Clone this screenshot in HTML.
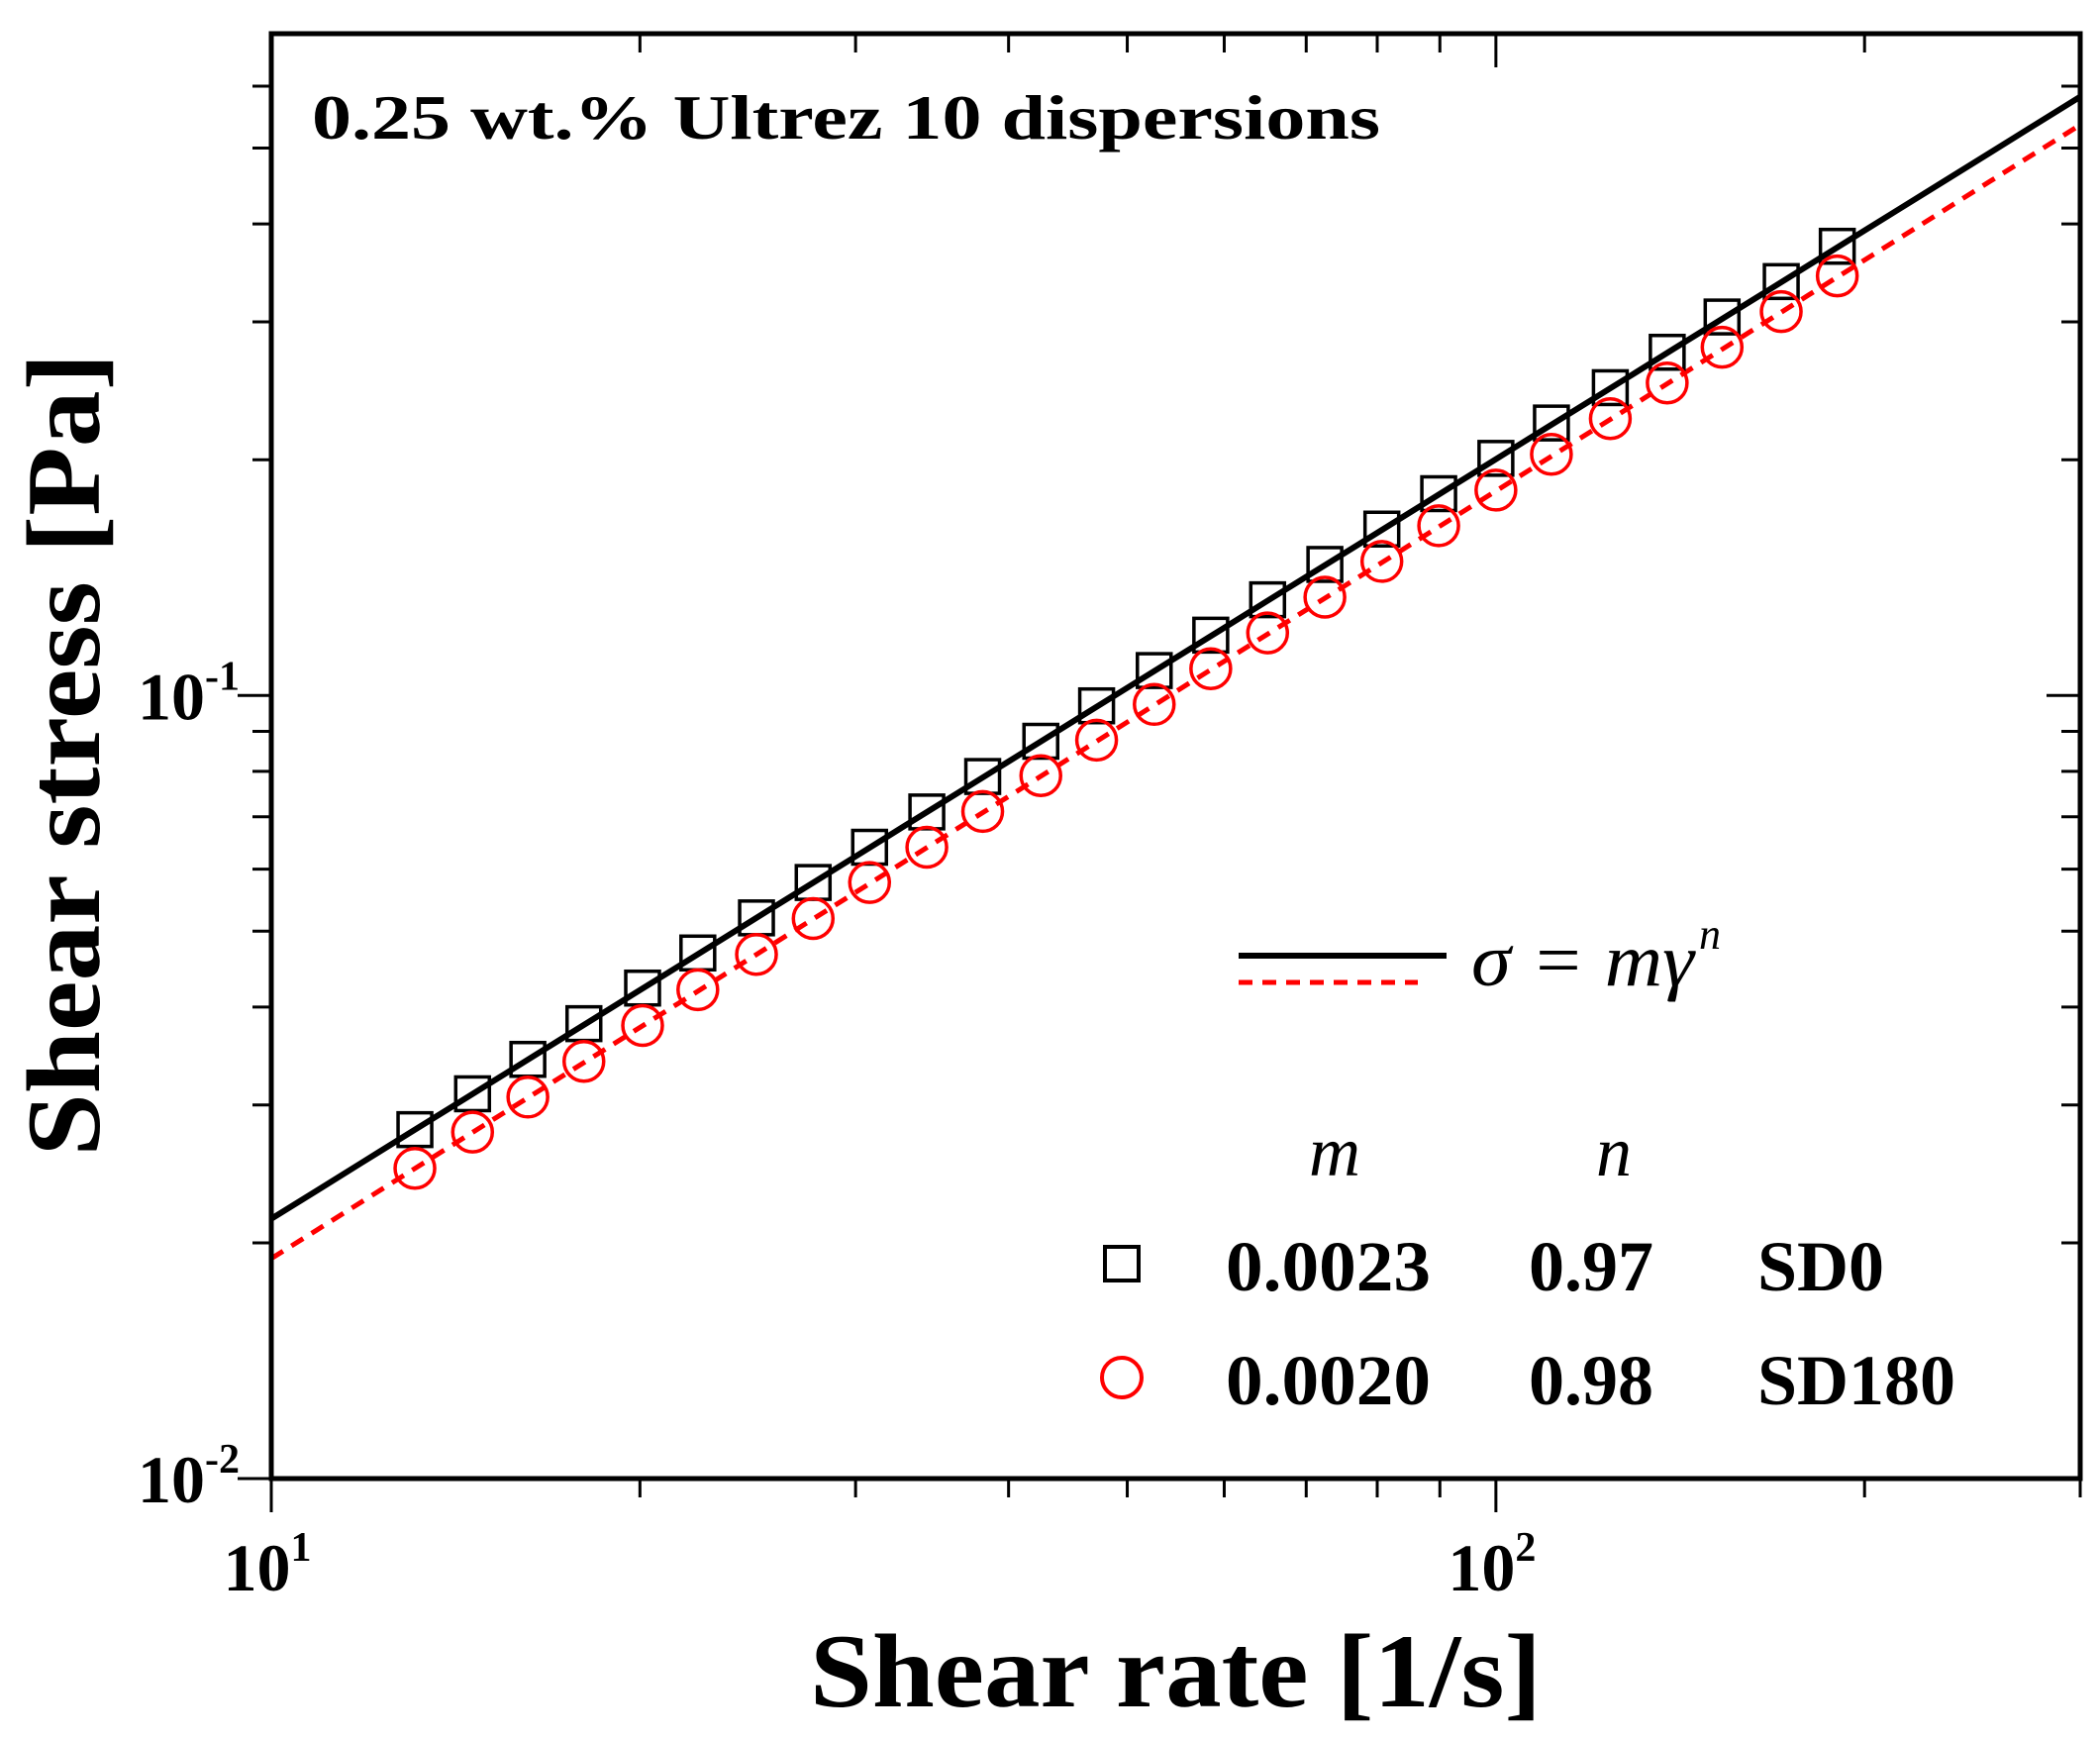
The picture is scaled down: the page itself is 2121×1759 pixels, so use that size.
<!DOCTYPE html>
<html><head><meta charset="utf-8"><style>
html,body{margin:0;padding:0;background:#fff;}
svg{display:block;}
text{font-family:"Liberation Serif",serif;}
</style></head><body>
<svg id="chart" width="2121" height="1759" viewBox="0 0 2121 1759" xmlns="http://www.w3.org/2000/svg">
<rect width="2121" height="1759" fill="#fff"/>
<g id="marks"></g>
<g id="axes"></g>
<text x="315" y="140" font-size="64" font-weight="bold" textLength="1079" lengthAdjust="spacingAndGlyphs">0.25 wt.% Ultrez 10 dispersions</text>
<text transform="translate(100,762) rotate(-90)" text-anchor="middle" font-size="106" font-weight="bold" textLength="811" lengthAdjust="spacingAndGlyphs">Shear stress [Pa]</text>
<text x="818" y="1723" font-size="106" font-weight="bold" textLength="739" lengthAdjust="spacingAndGlyphs">Shear rate [1/s]</text>
<g>
<line x1="1251" y1="965" x2="1461" y2="965" stroke="#000" stroke-width="6"/>
<line x1="1251" y1="992" x2="1432" y2="992" stroke="#f00" stroke-width="5" stroke-dasharray="14,10"/>
<text x="1486" y="995" font-size="76" font-style="italic" textLength="225" lengthAdjust="spacingAndGlyphs">σ = mγ</text>
<text x="1716" y="958" font-size="44" font-style="italic">n</text>
<text x="1348" y="1187" font-size="72" font-style="italic" text-anchor="middle">m</text>
<text x="1630" y="1187" font-size="72" font-style="italic" text-anchor="middle">n</text>
<rect x="1116" y="1259" width="34" height="34" fill="none" stroke="#000" stroke-width="4"/>
<text x="1238" y="1303" font-size="72" font-weight="bold" textLength="207" lengthAdjust="spacingAndGlyphs">0.0023</text>
<text x="1544" y="1303" font-size="72" font-weight="bold">0.97</text>
<text x="1775" y="1303" font-size="72" font-weight="bold">SD0</text>
<circle cx="1133" cy="1391" r="20" fill="none" stroke="#f00" stroke-width="4"/>
<text x="1238" y="1418" font-size="72" font-weight="bold" textLength="207" lengthAdjust="spacingAndGlyphs">0.0020</text>
<text x="1544" y="1418" font-size="72" font-weight="bold">0.98</text>
<text x="1775" y="1418" font-size="72" font-weight="bold">SD180</text>
</g>
</svg>
<script>
const shearRate = [13.1,14.6,16.2,18.0,20.1,22.3,24.9,27.7,30.8,34.3,38.1,42.5,47.2,52.6,58.5,65.1,72.5,80.7,89.8,100,111,124,138,153,171,190];
const stressSD0 = [0.0279,0.0310,0.0343,0.0381,0.0423,0.0469,0.0520,0.0577,0.0640,0.0710,0.0788,0.0874,0.0970,0.1076,0.1194,0.1325,0.1470,0.1631,0.1810,0.2008,0.2228,0.2472,0.2743,0.3043,0.3377,0.3746];
const stressSD180 = [0.0249,0.0277,0.0307,0.0341,0.0379,0.0421,0.0467,0.0519,0.0577,0.0640,0.0711,0.0790,0.0877,0.0974,0.1082,0.1202,0.1335,0.1483,0.1647,0.1829,0.2032,0.2257,0.2506,0.2784,0.3092,0.3434];
const fitM = [0.0023, 0.0020];
const fitN = [0.97, 0.98];
const xDomain = [10, 300];
const yDomain = [0.01, 0.7];
const xMajor = [10, 100];
const xMajorLabels = ["1","2"];
const yMajor = [0.01, 0.1];
const yMajorLabels = ["-2","-1"];

const L=274,R=2101,T=34,B=1493;
const NS="http://www.w3.org/2000/svg";
const lx0=Math.log10(xDomain[0]), lx1=Math.log10(xDomain[1]);
const ly0=Math.log10(yDomain[0]), ly1=Math.log10(yDomain[1]);
function X(v){return L+(Math.log10(v)-lx0)/(lx1-lx0)*(R-L);}
function Y(v){return B-(Math.log10(v)-ly0)/(ly1-ly0)*(B-T);}
function mk(tag,attrs,parent){const e=document.createElementNS(NS,tag);for(const k in attrs)e.setAttribute(k,attrs[k]);parent.appendChild(e);return e;}
const marks=document.getElementById('marks'), axes=document.getElementById('axes');

const fitColors=["#000","#f00"];
for(let s=0;s<2;s++){
  const pts=[];
  for(let i=0;i<=40;i++){const xv=xDomain[0]*Math.pow(xDomain[1]/xDomain[0],i/40);pts.push(X(xv).toFixed(1)+","+Y(fitM[s]*Math.pow(xv,fitN[s])).toFixed(1));}
  const pl=mk('polyline',{points:pts.join(' '),fill:'none',stroke:fitColors[s],'stroke-width':s?5:6},marks);
  if(s)pl.setAttribute('stroke-dasharray','14,10');
  
  
}
shearRate.forEach((xv,i)=>{
  const r=mk('rect',{x:X(xv)-17,y:Y(stressSD0[i])-17,width:34,height:34,fill:'none',stroke:'#000','stroke-width':3.5},marks);
  
  
  const c=mk('circle',{cx:X(xv),cy:Y(stressSD180[i]),r:20,fill:'none',stroke:'#f00','stroke-width':3.5},marks);
  
  
});
const fr=mk('rect',{x:L,y:T,width:R-L,height:B-T,fill:'none',stroke:'#000','stroke-width':5},axes);


for(let d=1;d<=2;d++){for(let k=1;k<=9;k++){const v=k*Math.pow(10,d);if(v<xDomain[0]||v>xDomain[1])continue;
  const len=k===1?34:19;const x=X(v);
  const t1=mk('line',{x1:x,y1:B,x2:x,y2:B+len,stroke:'#000','stroke-width':3},axes);
  
  
  const t2=mk('line',{x1:x,y1:T,x2:x,y2:T+len,stroke:'#000','stroke-width':3},axes);
  
  
}}
for(let d=-2;d<=-1;d++){for(let k=1;k<=9;k++){const v=k*Math.pow(10,d);if(v<yDomain[0]||v>yDomain[1])continue;
  const len=k===1?34:19;const y=Y(v);
  const t1=mk('line',{x1:L-len,y1:y,x2:L,y2:y,stroke:'#000','stroke-width':3},axes);
  
  
  const t2=mk('line',{x1:R-len,y1:y,x2:R,y2:y,stroke:'#000','stroke-width':3},axes);
  
  
}}
xMajor.forEach((v,i)=>{
  const t=mk('text',{x:X(v)-4,y:1606,'font-size':68,'font-weight':'bold','text-anchor':'middle'},axes);
  t.textContent='10';
  const s=mk('tspan',{dy:-30,'font-size':42},t);s.textContent=xMajorLabels[i];
  
  
});
yMajor.forEach((v,i)=>{
  const t=mk('text',{x:242,y:Y(v)+24,'font-size':68,'font-weight':'bold','text-anchor':'end'},axes);
  t.textContent='10';
  const s=mk('tspan',{dy:-30,'font-size':42},t);s.textContent=yMajorLabels[i];
  
  
});
</script>
</body></html>
